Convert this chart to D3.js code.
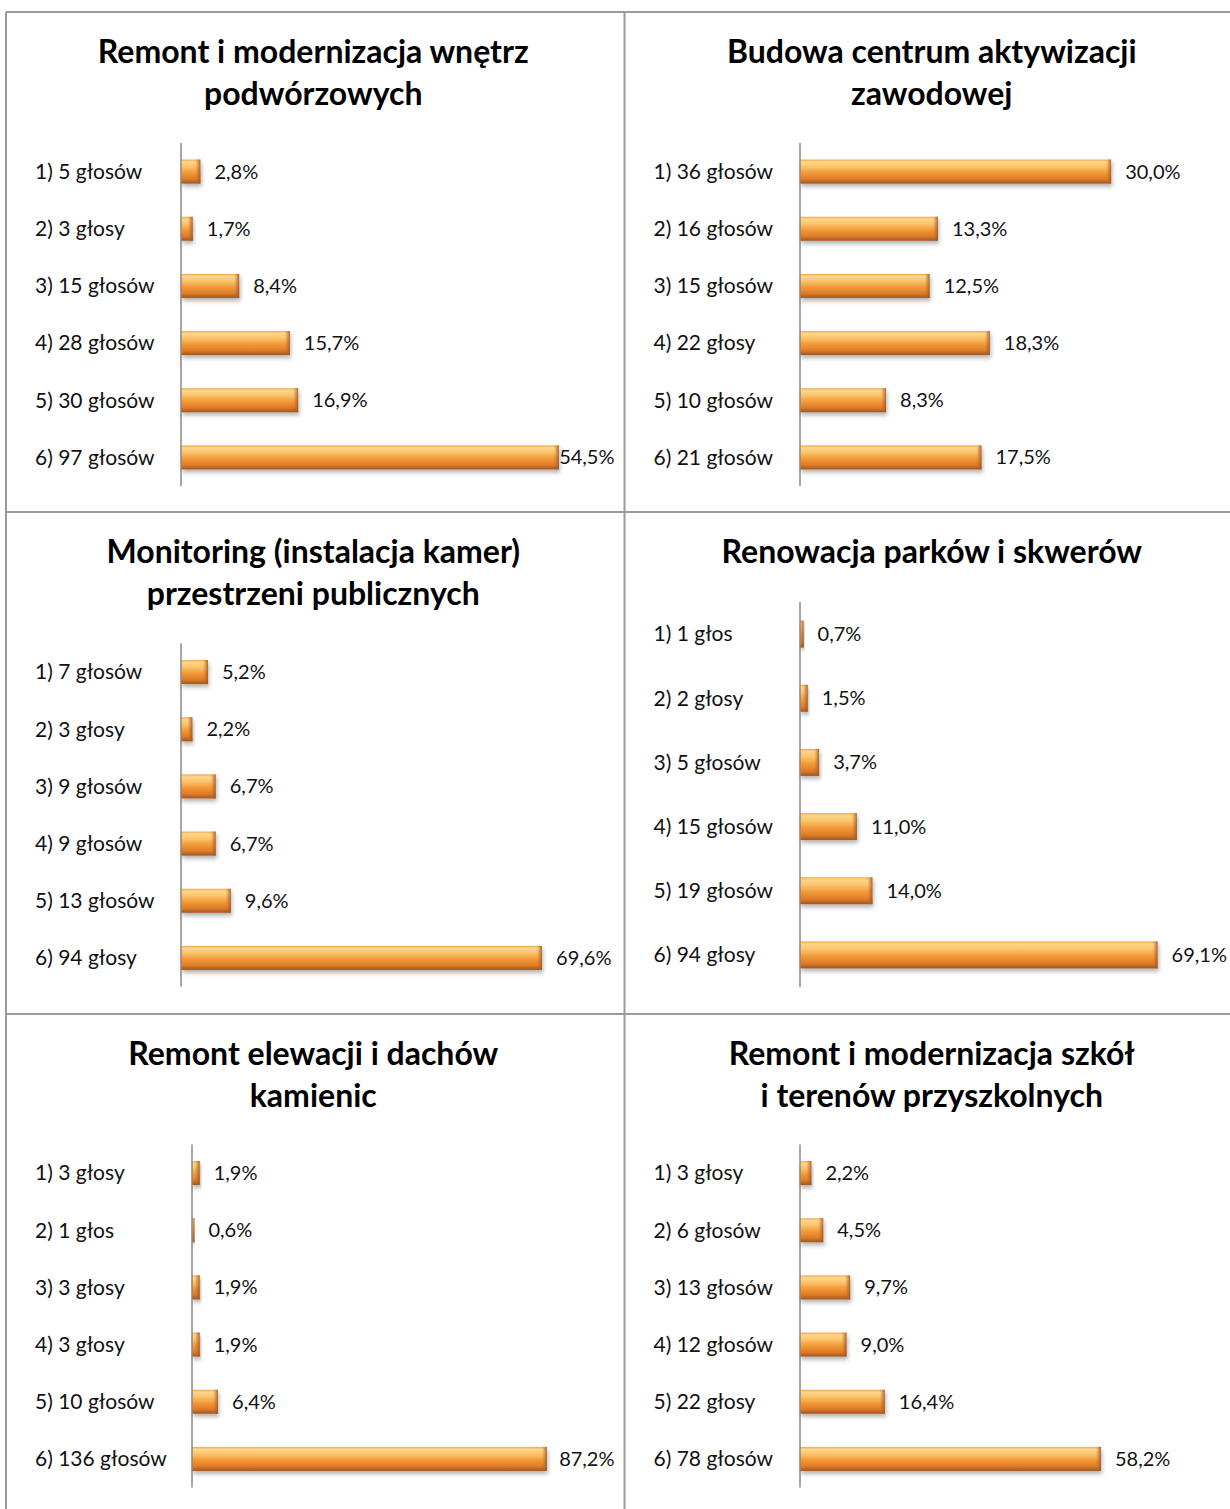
<!DOCTYPE html>
<html>
<head>
<meta charset="utf-8">
<script src="https://cdn.jsdelivr.net/npm/d3@7"></script>
<style>
  body { margin: 0; background: #fff; }
  svg text { font-family: Lato, "Open Sans", sans-serif; }
</style>
</head>
<body>
<div id="chart"></div>
<script>
// Hardcoded data
const titles = [
    ["Remont i modernizacja wnętrz", "podwórzowych"],
    ["Budowa centrum aktywizacji", "zawodowej"],
    ["Monitoring (instalacja kamer)", "przestrzeni publicznych"],
    ["Renowacja parków i skwerów"],
    ["Remont elewacji i dachów", "kamienic"],
    ["Remont i modernizacja szkół", "i terenów przyszkolnych"]
];
const cats1 = ["1) 5 głosów", "2) 3 głosy", "3) 15 głosów", "4) 28 głosów", "5) 30 głosów", "6) 97 głosów"];
const vals1 = [2.8, 1.7, 8.4, 15.7, 16.9, 54.5];
const cats2 = ["1) 36 głosów", "2) 16 głosów", "3) 15 głosów", "4) 22 głosy", "5) 10 głosów", "6) 21 głosów"];
const vals2 = [30.0, 13.3, 12.5, 18.3, 8.3, 17.5];
const cats3 = ["1) 7 głosów", "2) 3 głosy", "3) 9 głosów", "4) 9 głosów", "5) 13 głosów", "6) 94 głosy"];
const vals3 = [5.2, 2.2, 6.7, 6.7, 9.6, 69.6];
const cats4 = ["1) 1 głos", "2) 2 głosy", "3) 5 głosów", "4) 15 głosów", "5) 19 głosów", "6) 94 głosy"];
const vals4 = [0.7, 1.5, 3.7, 11.0, 14.0, 69.1];
const cats5 = ["1) 3 głosy", "2) 1 głos", "3) 3 głosy", "4) 3 głosy", "5) 10 głosów", "6) 136 głosów"];
const vals5 = [1.9, 0.6, 1.9, 1.9, 6.4, 87.2];
const cats6 = ["1) 3 głosy", "2) 6 głosów", "3) 13 głosów", "4) 12 głosów", "5) 22 głosy", "6) 78 głosów"];
const vals6 = [2.2, 4.5, 9.7, 9.0, 16.4, 58.2];
const xMax = [60, 35, 80, 80, 100, 70];

const allCats = [cats1, cats2, cats3, cats4, cats5, cats6];
const allVals = [vals1, vals2, vals3, vals4, vals5, vals6];

const W = 1230, H = 1509;
const colX = [6, 624.5], rowY = [12, 512, 1014], panelW = 618.5;

// layout per panel: axis x and plot width (relative to panel), band top/bottom, title baselines
const layout = [
    {ax: 175, pw: 416, b0: 131, b1: 474, ty: [51, 93]},
    {ax: 175.5, pw: 363, b0: 131, b1: 474, ty: [51, 93]},
    {ax: 175, pw: 415, b0: 131.5, b1: 474.5, ty: [51, 93]},
    {ax: 175.5, pw: 414, b0: 90, b1: 475, ty: [51]},
    {ax: 186, pw: 407, b0: 130.5, b1: 473.5, ty: [51, 93]},
    {ax: 175.5, pw: 362, b0: 130.5, b1: 473.5, ty: [51, 93]}
];

const svg = d3.select("#chart").append("svg")
    .attr("width", W).attr("height", H);

const defs = svg.append("defs");
const grad = defs.append("linearGradient").attr("id", "barGrad")
    .attr("x1", 0).attr("y1", 0).attr("x2", 0).attr("y2", 1);
[[0, "#f0a848"], [0.1, "#fdd68a"], [0.28, "#fbc56e"], [0.55, "#f29a38"], [0.82, "#de7a28"], [1, "#9e561e"]]
    .forEach(s => grad.append("stop").attr("offset", s[0]).attr("stop-color", s[1]));
const endGrad = defs.append("linearGradient").attr("id", "endGrad")
    .attr("x1", 0).attr("y1", 0).attr("x2", 1).attr("y2", 0);
endGrad.append("stop").attr("offset", 0).attr("stop-color", "#c86a22").attr("stop-opacity", 0);
endGrad.append("stop").attr("offset", 1).attr("stop-color", "#9c5420").attr("stop-opacity", 0.85);
const shadow = defs.append("filter").attr("id", "shadow")
    .attr("x", "-10%").attr("y", "-30%").attr("width", "130%").attr("height", "190%");
shadow.append("feDropShadow").attr("dx", 1).attr("dy", 3).attr("stdDeviation", 2)
    .attr("flood-color", "#000").attr("flood-opacity", 0.3);

allVals.forEach((vals, i) => {
    const px = colX[i % 2], py = rowY[Math.floor(i / 2)];
    const L = layout[i];
    const g = svg.append("g").attr("transform", `translate(${px},${py})`);

    const titleText = g.append("text")
        .attr("text-anchor", "middle")
        .attr("font-size", 32).attr("font-weight", "bold").attr("fill", "#000");
    titles[i].forEach((t, k) => {
        titleText.append("tspan").attr("x", panelW / 2 - 2).attr("y", L.ty[k]).text(t);
    });

    const y = d3.scaleBand().domain(allCats[i]).range([L.b0, L.b1]).paddingInner(0.58).paddingOuter(0.29);
    const x = d3.scaleLinear().domain([0, xMax[i]]).range([L.ax, L.ax + L.pw]);

    // category labels
    g.selectAll(".cat").data(allCats[i]).enter().append("text")
        .attr("x", 29)
        .attr("y", d => y(d) + y.bandwidth() / 2)
        .attr("dy", "0.35em")
        .attr("font-size", 21).attr("fill", "#111")
        .text(d => d);

    const bars = g.selectAll(".bar").data(vals).enter().append("g")
        .attr("filter", "url(#shadow)");
    bars.append("rect")
        .attr("x", x(0))
        .attr("y", (d, j) => y(allCats[i][j]))
        .attr("width", d => x(d) - x(0))
        .attr("height", y.bandwidth())
        .attr("fill", "url(#barGrad)");
    bars.append("rect")
        .attr("x", d => x(d) - Math.min(5, x(d) - x(0)))
        .attr("y", (d, j) => y(allCats[i][j]))
        .attr("width", d => Math.min(5, x(d) - x(0)))
        .attr("height", y.bandwidth())
        .attr("fill", "url(#endGrad)");

    // axis line
    g.append("line")
        .attr("x1", x(0)).attr("x2", x(0))
        .attr("y1", L.b0).attr("y2", L.b1)
        .attr("stroke", "#888").attr("stroke-width", 1.5);

    // value labels
    g.selectAll(".val").data(vals).enter().append("text")
        .attr("y", (d, j) => y(allCats[i][j]) + y.bandwidth() / 2)
        .attr("dy", "0.35em")
        .attr("font-size", 20).attr("fill", "#111")
        .text(d => d3.format(".1f")(d).replace(".", ",") + "%")
        .each(function(d) {
            const w = this.getComputedTextLength();
            let tx = x(d) + 14;
            if (tx + w > panelW - 10) tx = panelW - 10 - w;
            d3.select(this).attr("x", tx);
        });
});

// frame lines
const frame = svg.append("g").attr("stroke", "#9a9a9a").attr("stroke-width", 2);
frame.append("line").attr("x1", colX[0]).attr("x2", W).attr("y1", rowY[0]).attr("y2", rowY[0]);
frame.append("line").attr("x1", colX[0]).attr("x2", W).attr("y1", rowY[1]).attr("y2", rowY[1]);
frame.append("line").attr("x1", colX[0]).attr("x2", W).attr("y1", rowY[2]).attr("y2", rowY[2]);
frame.append("line").attr("x1", colX[0]).attr("x2", colX[0]).attr("y1", rowY[0]).attr("y2", H);
frame.append("line").attr("x1", colX[1]).attr("x2", colX[1]).attr("y1", rowY[0]).attr("y2", H);
</script>
</body>
</html>
